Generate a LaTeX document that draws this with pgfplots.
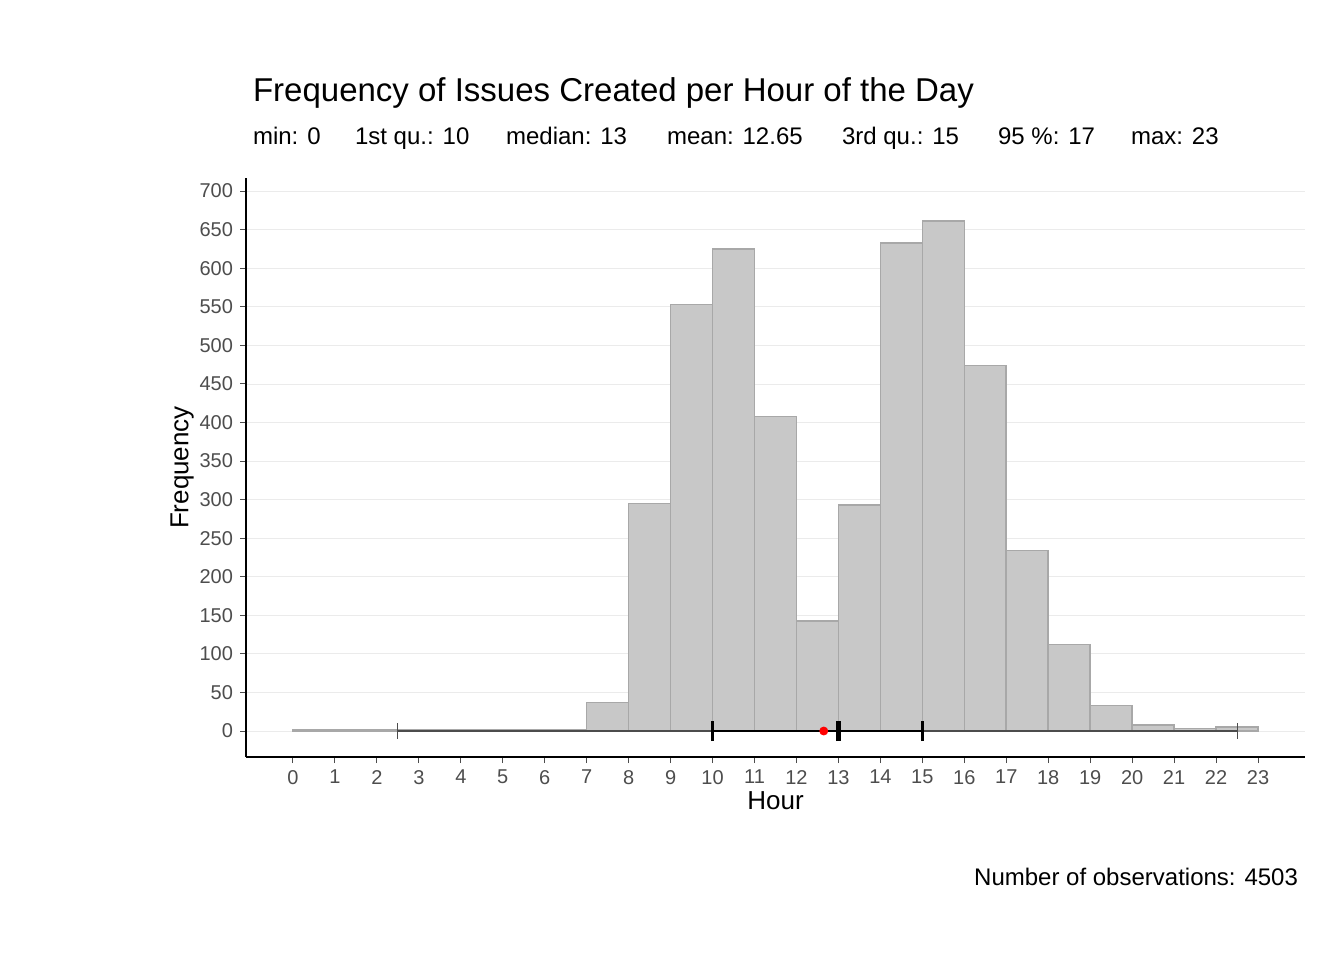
\documentclass[border=0pt]{standalone}
\usepackage{fontspec}
\setmainfont{Liberation Sans}
\usepackage{pgfplots}
\pgfplotsset{compat=1.18}
\definecolor{barfill}{HTML}{C8C8C8}
\definecolor{baredge}{HTML}{A8A8A8}
\definecolor{tickgray}{HTML}{4D4D4D}
\begin{document}
\begin{tikzpicture}
\useasboundingbox (0pt,0pt) rectangle (672pt,480pt);
\begin{axis}[
  at={(123pt,101.5pt)}, anchor=south west,
  scale only axis, width=529.5pt, height=289.5pt,
  xmin=-1.12, xmax=24.12, ymin=-33.7, ymax=717,
  axis x line*=bottom, axis y line*=left,
  axis line style={black, line width=0.8pt},
  xtick={0,...,23}, ytick={0,50,...,700},
  tick align=outside, major tick length=3pt,
  tick style={black!70, line width=0.5pt},
  ticklabel style={font=\fontsize{10}{12}\selectfont, text=tickgray},
  /pgf/number format/assume math mode=true,
  ymajorgrids, grid style={black!8, line width=0.4pt},
  xlabel={Hour}, ylabel={Frequency},
  label style={font=\fontsize{13}{15}\selectfont},
  xlabel style={yshift=3pt},
  ylabel style={yshift=-4pt},
  clip=false,
]
\addplot[ybar interval, fill=barfill, draw=baredge, line width=0.8pt] coordinates {
(0,2)(1,1)(2,1)(3,2)(4,1)(5,1)(6,1)(7,37)(8,295)(9,553)(10,625)(11,408)(12,143)
(13,293)(14,633)(15,661)(16,474)(17,234)(18,112)(19,33)(20,8)(21,3)(22,5)(23,5)};
\addplot[black!70, line width=0.6pt] coordinates {(2.5,0)(22.5,0)};
\addplot[black!70, line width=0.5pt] coordinates {(2.5,-10)(2.5,10)};
\addplot[black!70, line width=0.5pt] coordinates {(22.5,-10)(22.5,10)};
\addplot[black, line width=1.4pt] coordinates {(10,0)(15,0)};
\addplot[black, line width=1.2pt] coordinates {(10,-13)(10,13)};
\addplot[black, line width=1.2pt] coordinates {(15,-13)(15,13)};
\addplot[black, line width=2.4pt] coordinates {(13,-13)(13,13)};
\addplot[only marks, mark=*, mark size=2pt, red] coordinates {(12.65,0)};
\end{axis}
\node[anchor=base west, font=\fontsize{16.5}{19}\selectfont] at (123pt,429pt) {Frequency of Issues Created per Hour of the Day};
\begin{scope}[every node/.style={anchor=base west, font=\fontsize{12}{14}\selectfont}]
\node at (123pt,407.5pt) {min: 0};
\node at (174pt,407.5pt) {1st qu.: 10};
\node at (249.5pt,407.5pt) {median: 13};
\node at (330pt,407.5pt) {mean: 12.65};
\node at (417.5pt,407.5pt) {3rd qu.: 15};
\node at (495.5pt,407.5pt) {95 \%: 17};
\node at (562pt,407.5pt) {max: 23};
\end{scope}
\node[anchor=base east, font=\fontsize{12}{14}\selectfont] at (652.5pt,37.5pt) {Number of observations: 4503};
\end{tikzpicture}
\end{document}
